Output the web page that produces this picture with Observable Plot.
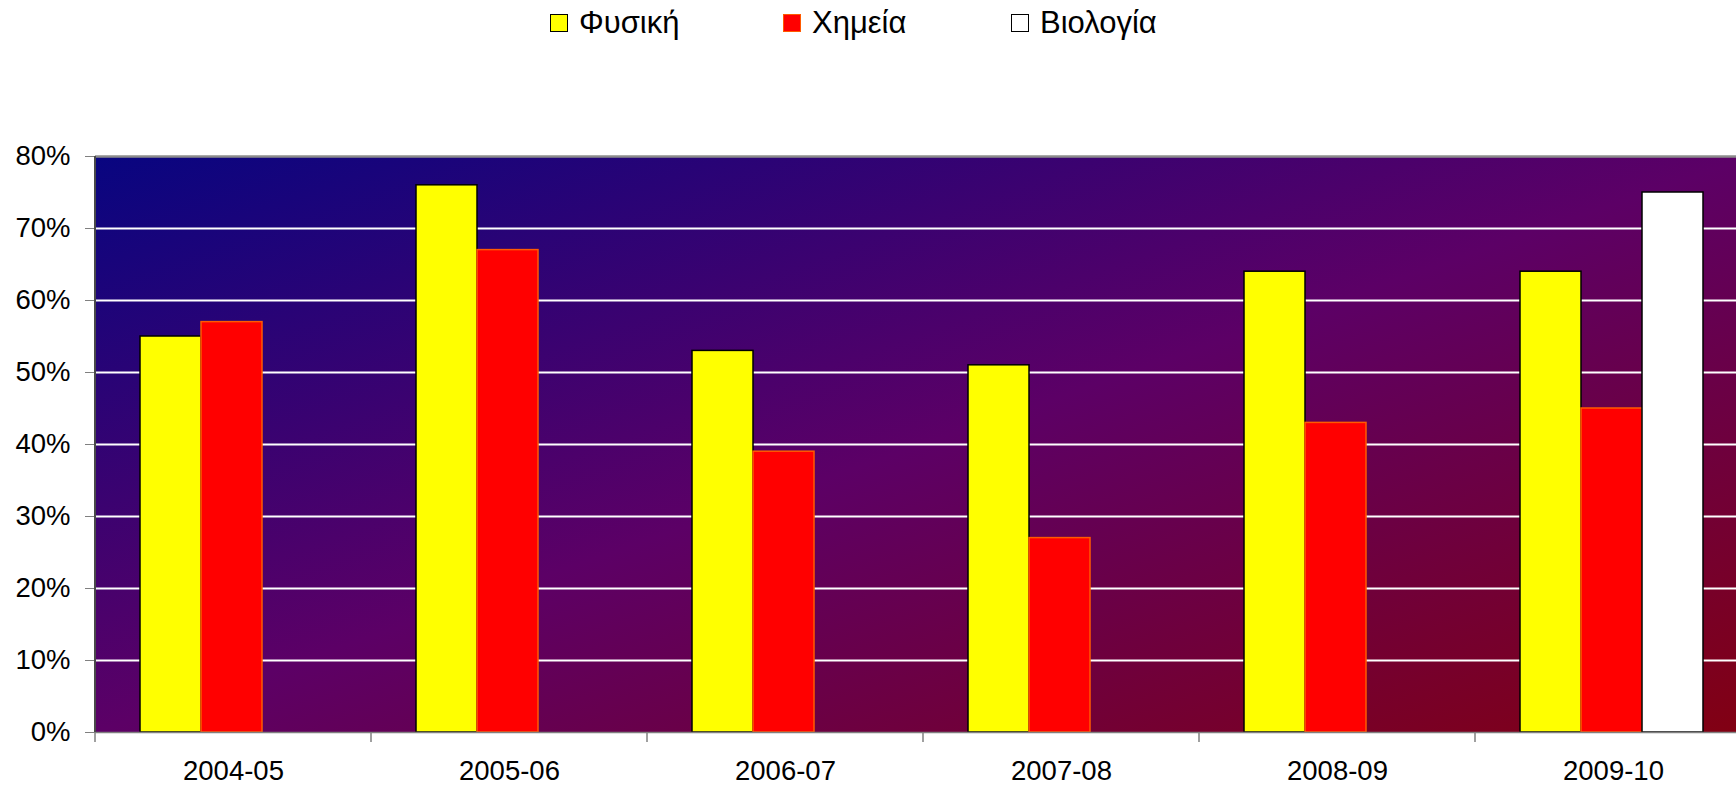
<!DOCTYPE html>
<html>
<head>
<meta charset="utf-8">
<script src="https://cdn.jsdelivr.net/npm/d3@7"></script>
<script src="https://cdn.jsdelivr.net/npm/@observablehq/plot@0.6"></script>
<style>
  html, body { margin: 0; padding: 0; background: white; overflow: hidden; width: 1736px; height: 785px; }
  #legend { position: relative; height: 46px;
    font-family: 'Liberation Sans', Arial, sans-serif; font-size: 31px; color: black; }
  .item { position: absolute; top: 0; height: 46px; display: flex; align-items: center; white-space: nowrap; }
  .sw { width: 18px; height: 18px; box-sizing: border-box; margin-right: 11px; }
</style>
</head>
<body>
<div id="legend"></div>
<div id="chart"></div>
<script>
const years = ["2004-05", "2005-06", "2006-07", "2007-08", "2008-09", "2009-10"];
const subjects = ["Φυσική", "Χημεία", "Βιολογία"];
const physics   = [0.55, 0.76, 0.53, 0.51, 0.64, 0.64];
const chemistry = [0.57, 0.67, 0.39, 0.27, 0.43, 0.45];
const biology   = [null, null, null, null, null, 0.75];
const yTicks = [0, 0.1, 0.2, 0.3, 0.4, 0.5, 0.6, 0.7, 0.8];

const fills = ["#ffff00", "#ff0000", "#ffffff"];
const strokes = ["#000000", "#ff5a00", "#000000"];
const legendLeft = [550, 783, 1011];

const series = [physics, chemistry, biology];
const rows = [];
subjects.forEach((s, j) => years.forEach((y, i) => {
  if (series[j][i] != null) rows.push({year: y, subject: s, value: series[j][i]});
}));

// legend
const legend = d3.select("#legend");
subjects.forEach((s, j) => {
  const it = legend.append("div").attr("class", "item").style("left", legendLeft[j] + "px");
  it.append("span").attr("class", "sw")
    .style("background", fills[j])
    .style("border", `1.5px solid ${strokes[j]}`);
  it.append("span").text(s);
});

const barMarks = subjects.map((s, j) =>
  Plot.barY(rows.filter(d => d.subject === s), {
    fx: "year", x: "subject", y: "value",
    fill: fills[j], stroke: strokes[j], strokeWidth: 1.5
  })
);

const chart = Plot.plot({
  width: 1751, height: 739,
  marginLeft: 95, marginRight: 0, marginTop: 110, marginBottom: 53,
  style: {fontFamily: "'Liberation Sans', Arial, sans-serif", fontSize: "27.5px", color: "black",
          background: "transparent", maxWidth: "none"},
  fx: {domain: years, paddingInner: 0, paddingOuter: 0, label: null, axis: "bottom", tickSize: 0, tickPadding: 27.5},
  x: {domain: subjects, paddingInner: 0, paddingOuter: 0.75, align: 0.48, axis: null},
  y: {domain: [0, 0.8], axis: null},
  marks: [
    Plot.ruleY(yTicks.filter(v => v > 0 && v < 0.8), {stroke: "white", strokeWidth: 1.8}),
    ...barMarks,
    Plot.ruleY([0], {stroke: "#808080", strokeWidth: 1.5}),
    Plot.ruleY([0.8], {stroke: "#8c8c8c", strokeWidth: 2.3}),
    Plot.axisY({ticks: yTicks, tickFormat: d3.format(".0%"), tickSize: 10, tickPadding: 15,
                color: "black", stroke: "#808080", label: null})
  ]
});
document.getElementById("chart").appendChild(chart);

// background gradient and category boundary ticks, positioned from Plot's scales
const svg = d3.select(chart);
const fxS = chart.scale("fx"), yS = chart.scale("y");
const xa = fxS.range[0], xb = fxS.range[1];
const yTop = yS.apply(0.8), yBot = yS.apply(0);
const defs = svg.insert("defs", ":first-child");
const grad = defs.append("linearGradient").attr("id", "bg")
  .attr("x1", 0).attr("y1", 0).attr("x2", 1).attr("y2", 1);
[[0, "#080580"], [0.5, "#5c0066"], [1, "#820012"]].forEach(([o, c]) =>
  grad.append("stop").attr("offset", o).attr("stop-color", c));
svg.insert("rect", "g").attr("x", xa).attr("y", yTop).attr("width", xb - xa).attr("height", yBot - yTop)
  .attr("fill", "url(#bg)");
const g = svg.append("g");
years.forEach(y => {
  const x = fxS.apply(y);
  g.append("line").attr("x1", x).attr("x2", x).attr("y1", yBot).attr("y2", yBot + 10)
    .attr("stroke", "#808080").attr("stroke-width", 1.5);
});
g.append("line").attr("x1", xa).attr("x2", xa).attr("y1", yTop).attr("y2", yBot)
  .attr("stroke", "#4a4a4a").attr("stroke-width", 2);
</script>
</body>
</html>
